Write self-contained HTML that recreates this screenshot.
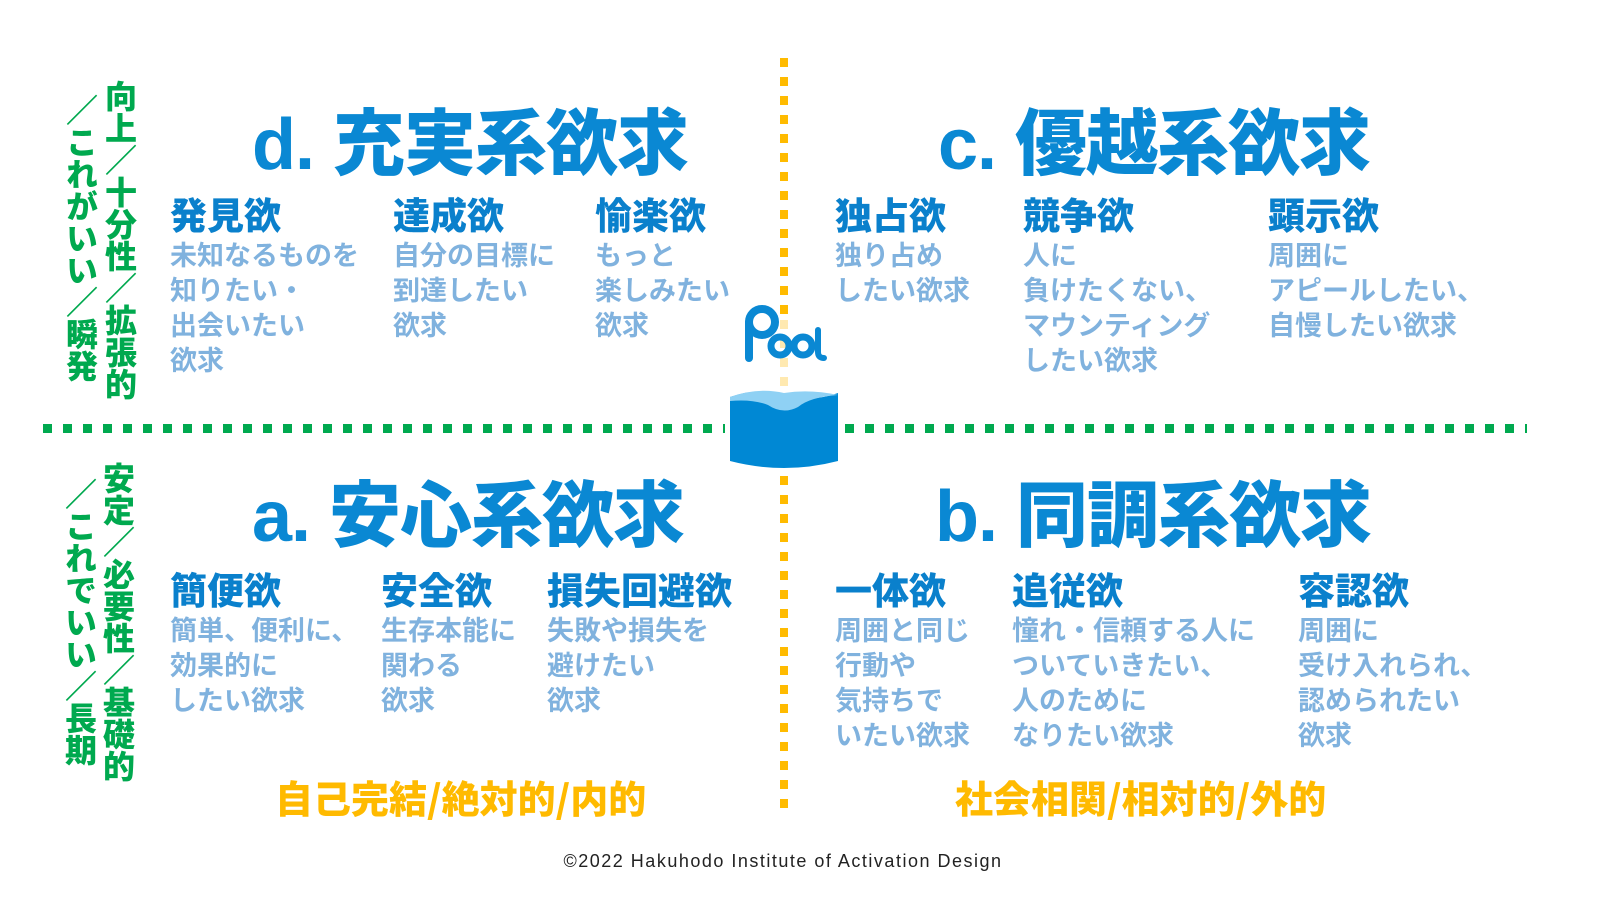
<!DOCTYPE html>
<html><head><meta charset="utf-8">
<style>
html,body{margin:0;padding:0;background:#fff;}
body{width:1600px;height:900px;position:relative;overflow:hidden;font-family:"Liberation Sans","Noto Sans CJK JP",sans-serif;font-weight:700;}
.a{position:absolute;white-space:nowrap;}
.h{font-size:72px;color:#0a88d3;line-height:1;font-weight:900;letter-spacing:-1px;}
.s{font-size:37px;color:#0a80cc;line-height:1;font-weight:900;}
.b{font-size:27px;color:#80b2de;line-height:35px;font-weight:700;}
.v{position:absolute;writing-mode:vertical-rl;font-size:32px;color:#00a94f;line-height:1;font-weight:900;letter-spacing:0px;}
.o{font-size:38px;color:#ffba00;line-height:1;font-weight:900;font-family:"Noto Sans CJK JP",sans-serif;}
</style></head><body>
<div class="a" style="left:780px;top:58px;width:8px;height:752px;background:repeating-linear-gradient(to bottom,#ffbb00 0 9px,transparent 9px 19px);"></div>
<div class="a" style="left:43px;top:424px;width:682px;height:9px;background:repeating-linear-gradient(to right,#00a94f 0 9px,transparent 9px 20px);"></div>
<div class="a" style="left:845px;top:424px;width:682px;height:9px;background:repeating-linear-gradient(to right,#00a94f 0 9px,transparent 9px 20px);"></div>
<div class="a" style="left:776px;top:320px;width:16px;height:80px;background:#fff;"></div>
<div class="a" style="left:780px;top:320px;width:8px;height:70px;background:repeating-linear-gradient(to bottom,#ffe9b0 0 9px,transparent 9px 19px);"></div>
<svg class="a" style="left:740px;top:300px" width="90" height="65" viewBox="0 0 90 65">
<circle cx="22" cy="22" r="13" fill="none" stroke="#0a88d3" stroke-width="8"/>
<line x1="9" y1="22" x2="9" y2="58" stroke="#0a88d3" stroke-width="8" stroke-linecap="round"/>
<circle cx="40" cy="46" r="9" fill="none" stroke="#0a88d3" stroke-width="7"/>
<circle cx="63" cy="46" r="9" fill="none" stroke="#0a88d3" stroke-width="7"/>
<path d="M78 30 V52 Q78 58 84 58" fill="none" stroke="#0a88d3" stroke-width="6" stroke-linecap="round"/>
</svg>
<svg class="a" style="left:728px;top:385px" width="112" height="88" viewBox="0 0 112 88">
<path d="M2 12 Q30 2 56 10 Q82 18 110 8 V76 Q56 90 2 76 Z" fill="#0088d4"/>
<path d="M2 12 Q30 2 56 8 Q82 4 110 10 Q82 12 70 22 Q55 30 40 20 Q25 14 2 16 Z" fill="#8fd1f4"/>
</svg>
<div class="v" style="left:103px;top:80px;">向上／十分性／拡張的</div>
<div class="v" style="left:64px;top:94px;">／これがいい／瞬発</div>
<div class="v" style="left:101px;top:462px;">安定／必要性／基礎的</div>
<div class="v" style="left:63px;top:478px;">／これでいい／長期</div>
<div class="a h" style="left:252px;top:109px;">d. 充実系欲求</div>
<div class="a s" style="left:170px;top:198px;">発見欲</div>
<div class="a b" style="left:170px;top:239px;">未知なるものを<br>知りたい・<br>出会いたい<br>欲求</div>
<div class="a s" style="left:393px;top:198px;">達成欲</div>
<div class="a b" style="left:393px;top:239px;">自分の目標に<br>到達したい<br>欲求</div>
<div class="a s" style="left:595px;top:198px;">愉楽欲</div>
<div class="a b" style="left:595px;top:239px;">もっと<br>楽しみたい<br>欲求</div>
<div class="a h" style="left:938px;top:109px;">c. 優越系欲求</div>
<div class="a s" style="left:835px;top:198px;">独占欲</div>
<div class="a b" style="left:835px;top:239px;">独り占め<br>したい欲求</div>
<div class="a s" style="left:1023px;top:198px;">競争欲</div>
<div class="a b" style="left:1023px;top:239px;">人に<br>負けたくない、<br>マウンティング<br>したい欲求</div>
<div class="a s" style="left:1268px;top:198px;">顕示欲</div>
<div class="a b" style="left:1268px;top:239px;">周囲に<br>アピールしたい、<br>自慢したい欲求</div>
<div class="a h" style="left:252px;top:481px;">a. 安心系欲求</div>
<div class="a s" style="left:170px;top:573px;">簡便欲</div>
<div class="a b" style="left:170px;top:614px;">簡単、便利に、<br>効果的に<br>したい欲求</div>
<div class="a s" style="left:381px;top:573px;">安全欲</div>
<div class="a b" style="left:381px;top:614px;">生存本能に<br>関わる<br>欲求</div>
<div class="a s" style="left:547px;top:573px;">損失回避欲</div>
<div class="a b" style="left:547px;top:614px;">失敗や損失を<br>避けたい<br>欲求</div>
<div class="a h" style="left:935px;top:481px;">b. 同調系欲求</div>
<div class="a s" style="left:835px;top:573px;">一体欲</div>
<div class="a b" style="left:835px;top:614px;">周囲と同じ<br>行動や<br>気持ちで<br>いたい欲求</div>
<div class="a s" style="left:1012px;top:573px;">追従欲</div>
<div class="a b" style="left:1012px;top:614px;">憧れ・信頼する人に<br>ついていきたい、<br>人のために<br>なりたい欲求</div>
<div class="a s" style="left:1298px;top:573px;">容認欲</div>
<div class="a b" style="left:1298px;top:614px;">周囲に<br>受け入れられ、<br>認められたい<br>欲求</div>
<div class="a o" style="left:275px;top:778px;">自己完結/絶対的/内的</div>
<div class="a o" style="left:955px;top:778px;">社会相関/相対的/外的</div>
<div class="a" style="left:0;width:1566px;text-align:center;top:851px;font-size:18px;font-weight:400;letter-spacing:1.5px;color:#222;">©2022 Hakuhodo Institute of Activation Design</div>
</body></html>
